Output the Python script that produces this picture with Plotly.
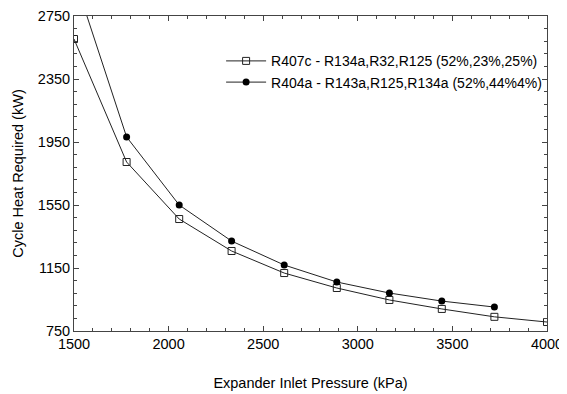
import plotly.graph_objects as go

pressure = [1500, 1778, 2056, 2333, 2611, 2889, 3167, 3444, 3722, 4000]
r407c = [2604, 1823, 1461, 1258, 1118, 1023, 947, 890, 840, 807]
pressure_404 = [1500, 1778, 2056, 2333, 2611, 2889, 3167, 3444, 3722]
r404a = [3000, 1982, 1550, 1321, 1169, 1061, 991, 940, 902]

names = ["R407c - R134a,R32,R125 (52%,23%,25%)", "R404a - R143a,R125,R134a (52%,44%4%)"]

fig = go.Figure()
fig.add_trace(go.Scatter(x=pressure, y=r407c, mode="lines+markers", name=names[0],
                         line=dict(color="#222222", width=1),
                         marker=dict(symbol="square-open", size=7, color="#222222", line=dict(width=1))))
fig.add_trace(go.Scatter(x=pressure_404, y=r404a, mode="lines+markers", name=names[1],
                         line=dict(color="#222222", width=1),
                         marker=dict(symbol="circle", size=7, color="black")))

FONT = "Liberation Sans, Arial"
axis_common = dict(showline=True, linecolor="#444444", linewidth=1, mirror="allticks",
                   ticks="inside", ticklen=5, tickcolor="#444444", showgrid=False, zeroline=False,
                   automargin=False,
                   tickfont=dict(family=FONT, size=14.5, color="black"))
fig.update_xaxes(range=[1500, 4000], tickvals=[1500, 2000, 2500, 3000, 3500, 4000],
                 minor=dict(dtick=100, ticks="inside", ticklen=3, tickcolor="#444444"),
                 title=dict(text="Expander Inlet Pressure (kPa)", font=dict(family=FONT, size=14.5, color="black"), standoff=26),
                 **axis_common)
fig.update_yaxes(range=[750, 2750], tickvals=[750, 1150, 1550, 1950, 2350, 2750],
                 minor=dict(dtick=80, tick0=750, ticks="inside", ticklen=3, tickcolor="#444444"),
                 title=dict(text="Cycle Heat Required (kW)", font=dict(family=FONT, size=14.5, color="black"), standoff=10),
                 **axis_common)
fig.update_layout(width=559, height=386, paper_bgcolor="white", plot_bgcolor="white",
                  margin=dict(l=66, r=20, t=8, b=63),
                  font=dict(family=FONT, color="black"),
                  legend=dict(x=0.311, y=0.907, xanchor="left", yanchor="top", bgcolor="rgba(0,0,0,0)",
                              font=dict(size=14), itemwidth=40))
fig.write_html("out.html")
